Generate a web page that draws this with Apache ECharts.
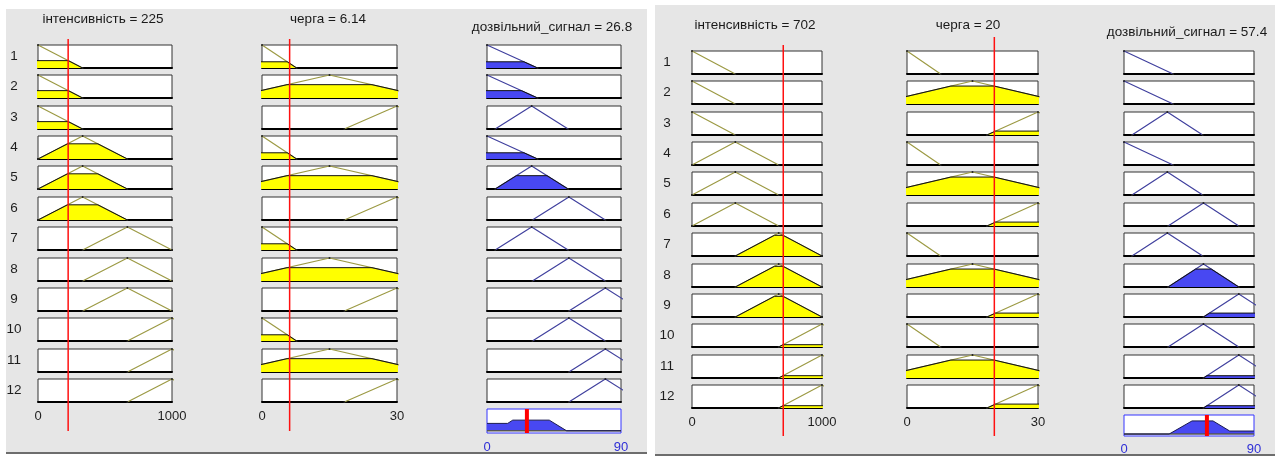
<!DOCTYPE html>
<html><head><meta charset="utf-8">
<script src="https://cdn.jsdelivr.net/npm/echarts@6/dist/echarts.min.js"></script>
<style>html,body{margin:0;padding:0;background:#fff}#c{width:1275px;height:456px}</style>
</head><body><div id="c"></div>
<script>
// ---------- data ----------
const rowLabels = ['1','2','3','4','5','6','7','8','9','10','11','12'];
const varNames = ['інтенсивність', 'черга', 'дозвільний_сигнал'];
const tickIn1 = [0, 1000];
const tickIn2 = [0, 30];
const tickOut = [0, 90];
// triangular membership functions [a, b, c]
const in1MF = [[-333, 0, 333], [0, 333, 667], [333, 667, 1000], [667, 1000, 1333]];
const in2MF = [[-7.7, 0, 7.7], [-7.5, 15, 37.5], [18.3, 30, 41.7]];
const outMF = [[-34, 0, 34], [5.5, 30, 54.5], [30.5, 55, 79.5], [55, 79.5, 104]];
// rules: MF index per row
const ruleIn1 = [0, 0, 0, 1, 1, 1, 2, 2, 2, 3, 3, 3];
const ruleIn2 = [0, 1, 2, 0, 1, 2, 0, 1, 2, 0, 1, 2];
const ruleOut = [0, 0, 1, 0, 1, 2, 1, 2, 3, 2, 3, 3];
// left view
const leftValues = [225, 6.14, 26.8];
const leftDeg1 = [0.32, 0.66, 0, 0];
const leftDeg2 = [0.27, 0.58, 0];
const leftFire = [0.27, 0.32, 0, 0.27, 0.58, 0, 0, 0, 0, 0, 0, 0];
const leftAggX = [0, 13.9, 17.3, 41.8, 53.5, 90];
const leftAggY = [0.34, 0.34, 0.49, 0.49, 0, 0];
// right view
const rightValues = [702, 20, 57.4];
const rightDeg1 = [0, 0, 0.9, 0.1];
const rightDeg2 = [0, 0.78, 0.17];
const rightFire = [0, 0, 0, 0, 0, 0, 0, 0.78, 0.17, 0, 0.1, 0.1];
const rightAggX = [0, 31.2, 47.1, 61.6, 73.2, 90];
const rightAggY = [0, 0, 0.69, 0.69, 0.16, 0.16];

// ---------- layout ----------
const FONT = '"Liberation Sans", Arial, sans-serif';
const layouts = [
  { bg: [6, 9, 641, 445], x: [38, 262, 487], w: [134, 135, 134], top0: 45, pitch: 30.36, h: 23,
    aggTop: 409, aggH: 24, redTop: [39, 39], redBottom: 431, rowNumX: 14,
    titles: [[103, 19], [328, 19], [552, 27]], labelMargin: 8, aggMargin: 8 },
  { bg: [655, 5, 620, 451], x: [692, 907, 1124], w: [130, 131, 130], top0: 51, pitch: 30.36, h: 23,
    aggTop: 415, aggH: 25, redTop: [45, 37], redBottom: 436, rowNumX: 667,
    titles: [[755, 25], [968, 25], [1187, 32]], labelMargin: 8, aggMargin: 7 }
];
const views = [
  { values: leftValues, deg1: leftDeg1, deg2: leftDeg2, fire: leftFire, aggX: leftAggX, aggY: leftAggY },
  { values: rightValues, deg1: rightDeg1, deg2: rightDeg2, fire: rightFire, aggX: rightAggX, aggY: rightAggY }
];

const grids = [], xAxes = [], yAxes = [], series = [], graphics = [];
function addGrid(g, xa, ya) {
  grids.push(g);
  const i = grids.length - 1;
  xa.gridIndex = i; ya.gridIndex = i;
  xAxes.push(xa); yAxes.push(ya);
  return i;
}
function clipPoly(mf, h) {
  return [[mf[0], 0], [mf[0] + h * (mf[1] - mf[0]), h], [mf[2] - h * (mf[2] - mf[1]), h], [mf[2], 0]];
}
const hiddenY = (min, max) => ({ type: 'value', min, max, show: false });
const plain = v => String(v);

function buildView(L, V) {
  graphics.push({ type: 'rect', z: -100, silent: true,
    shape: { x: L.bg[0], y: L.bg[1], width: L.bg[2], height: L.bg[3] }, style: { fill: '#e6e6e6' } });
  graphics.push({ type: 'line', z: -99, silent: true,
    shape: { x1: L.bg[0], y1: L.bg[1] + L.bg[3] - 1, x2: L.bg[0] + L.bg[2], y2: L.bg[1] + L.bg[3] - 1 },
    style: { stroke: '#444', lineWidth: 1.5 } });
  const cols = [
    { ticks: tickIn1, mfs: in1MF, rule: ruleIn1, lvl: r => V.deg1[ruleIn1[r]], line: '#9c9a44', fill: '#ffff00' },
    { ticks: tickIn2, mfs: in2MF, rule: ruleIn2, lvl: r => V.deg2[ruleIn2[r]], line: '#9c9a44', fill: '#ffff00' },
    { ticks: tickOut, mfs: outMF, rule: ruleOut, lvl: r => V.fire[r], line: '#40409e', fill: '#4848f2' }
  ];
  cols.forEach((c, ci) => {
    for (let r = 0; r < 12; r++) {
      const top = Math.round(L.top0 + r * L.pitch);
      const showLab = ci < 2 && r === 11;
      const idx = addGrid(
        { left: L.x[ci], top: top, width: L.w[ci], height: L.h, show: true,
          backgroundColor: '#ffffff', borderColor: '#333333', borderWidth: 1 },
        { type: 'value', min: c.ticks[0], max: c.ticks[1], interval: c.ticks[1] - c.ticks[0],
          axisLine: { show: true, onZero: false, lineStyle: { color: '#000', width: 2 } },
          axisTick: { show: false }, splitLine: { show: false },
          axisLabel: { show: showLab, color: '#1e1e1e', fontSize: 13, fontFamily: FONT, formatter: plain,
            margin: L.labelMargin, showMinLabel: true, showMaxLabel: true } },
        hiddenY(0, 1));
      const mf = c.mfs[c.rule[r]];
      series.push({ type: 'line', xAxisIndex: idx, yAxisIndex: idx, clip: true, silent: true,
        data: [[mf[0], 0], [mf[1], 1], [mf[2], 0]],
        symbol: 'circle', symbolSize: 2, showSymbol: true, itemStyle: { color: '#222' },
        lineStyle: { color: c.line, width: 1.2 }, animation: false });
      const h = c.lvl(r);
      if (h > 0) {
        series.push({ type: 'line', xAxisIndex: idx, yAxisIndex: idx, clip: true, silent: true,
          data: clipPoly(mf, h), showSymbol: false,
          lineStyle: { color: '#111', width: 1 }, areaStyle: { color: c.fill, opacity: 1 }, animation: false });
      }
    }
  });
  // aggregated output
  const a = addGrid(
    { left: L.x[2], top: L.aggTop, width: L.w[2], height: L.aggH, show: true,
      backgroundColor: '#ffffff', borderColor: '#3434ff', borderWidth: 1 },
    { type: 'value', min: tickOut[0], max: tickOut[1], interval: tickOut[1] - tickOut[0],
      axisLine: { show: false }, axisTick: { show: false }, splitLine: { show: false },
      axisLabel: { show: true, color: '#2f2fd6', fontSize: 13, fontFamily: FONT, margin: L.aggMargin,
        formatter: plain, showMinLabel: true, showMaxLabel: true } },
    hiddenY(-0.1, 1));
  series.push({ type: 'line', xAxisIndex: a, yAxisIndex: a, silent: true, showSymbol: false,
    data: [[tickOut[0], 0], [tickOut[1], 0]], lineStyle: { color: '#555', width: 1.5 }, animation: false });
  series.push({ type: 'line', xAxisIndex: a, yAxisIndex: a, silent: true, showSymbol: false, clip: true,
    data: V.aggX.map((x, i) => [x, V.aggY[i]]),
    lineStyle: { color: '#1a1a50', width: 1 }, areaStyle: { color: '#4848f2', opacity: 1 }, animation: false });
  series.push({ type: 'line', xAxisIndex: a, yAxisIndex: a, silent: true, showSymbol: false, z: 10,
    data: [[V.values[2], -0.1], [V.values[2], 1]], lineStyle: { color: '#ff0000', width: 4 }, animation: false });
  // input value markers
  [tickIn1, tickIn2].forEach((t, ci) => {
    const g = addGrid({ left: L.x[ci], top: L.redTop[ci], width: L.w[ci], height: L.redBottom - L.redTop[ci], show: false },
      { type: 'value', min: t[0], max: t[1], show: false }, hiddenY(0, 1));
    series.push({ type: 'line', xAxisIndex: g, yAxisIndex: g, silent: true, showSymbol: false, z: 10,
      data: [[V.values[ci], 0], [V.values[ci], 1]], lineStyle: { color: '#ff1010', width: 1.5 }, animation: false });
  });
  // titles
  varNames.forEach((n, i) => {
    graphics.push({ type: 'text', x: L.titles[i][0], y: L.titles[i][1], silent: true,
      style: { text: n + ' = ' + V.values[i], fill: '#1a1a1a', fontSize: 13.5, fontFamily: FONT,
        align: 'center', verticalAlign: 'middle' } });
  });
  rowLabels.forEach((lab, r) => {
    graphics.push({ type: 'text', x: L.rowNumX, y: Math.round(L.top0 + r * L.pitch) + L.h / 2, silent: true,
      style: { text: lab, fill: '#1e1e1e', fontSize: 13.5, fontFamily: FONT, align: 'center', verticalAlign: 'middle' } });
  });
}
layouts.forEach((L, i) => buildView(L, views[i]));

const chart = echarts.init(document.getElementById('c'));
chart.setOption({
  animation: false,
  backgroundColor: '#ffffff',
  grid: grids, xAxis: xAxes, yAxis: yAxes, series: series,
  graphic: { elements: graphics }
});
</script></body></html>
